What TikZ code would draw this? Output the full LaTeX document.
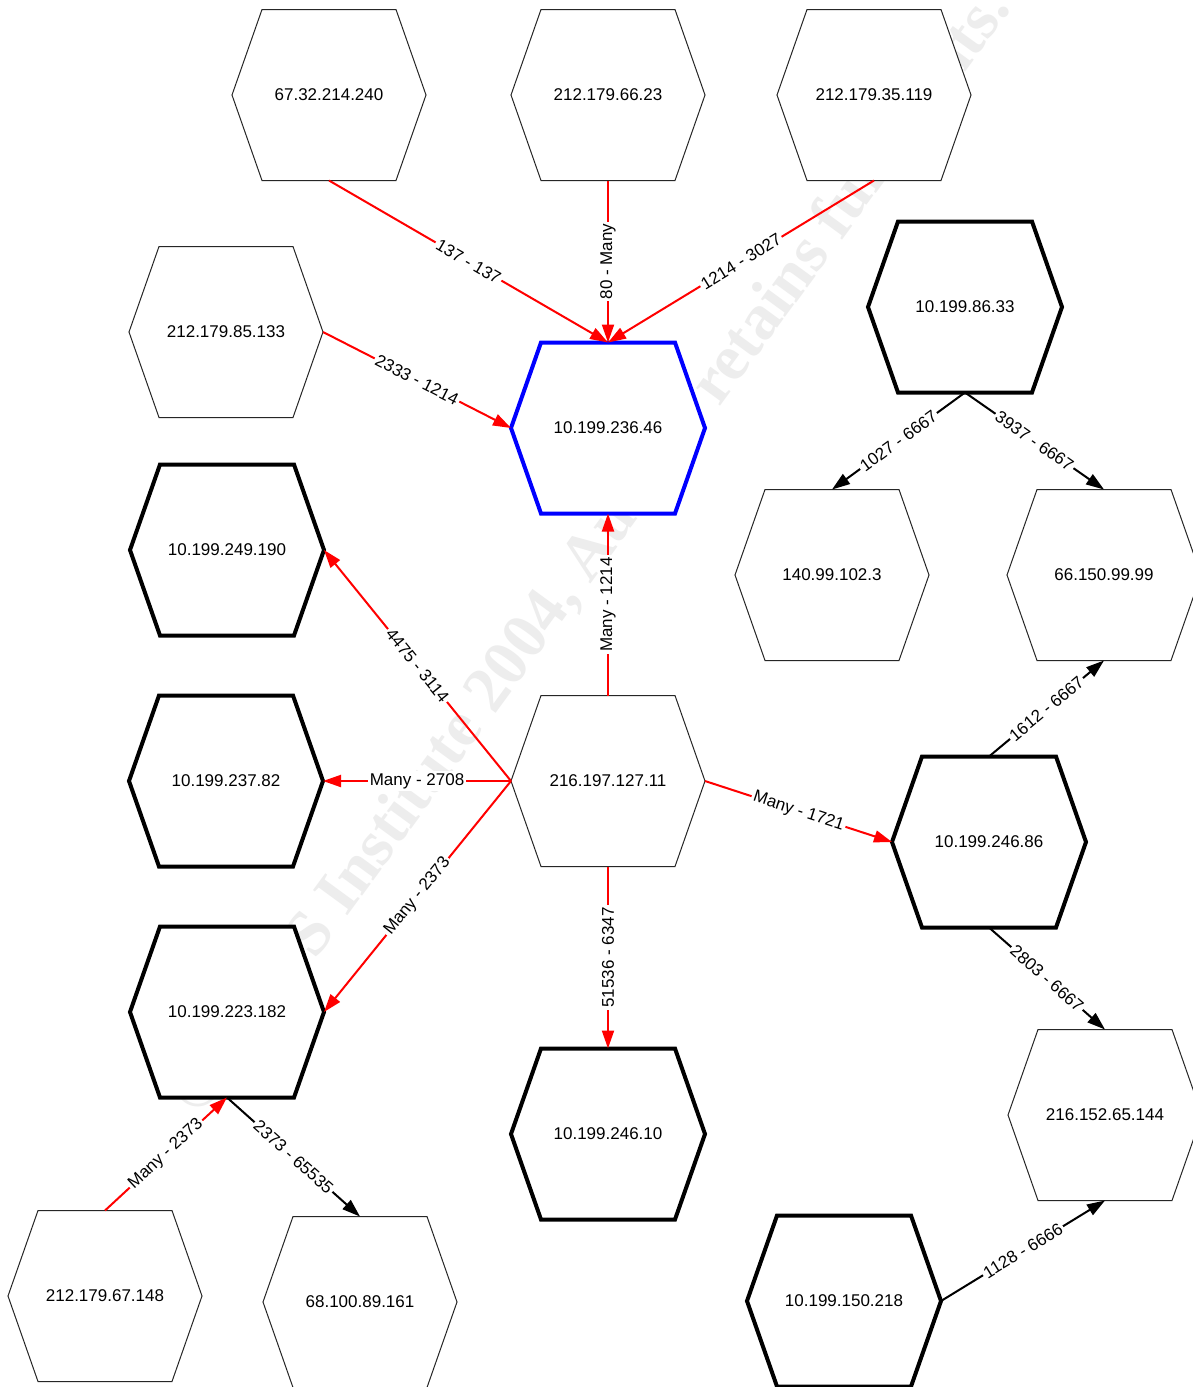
\documentclass[tikz,border=0pt]{standalone}
\usepackage{fontspec}
\setmainfont{Liberation Sans}
\newfontfamily\wmfont{Liberation Serif}
\usetikzlibrary{arrows.meta}
\makeatletter
\pgfdeclareshape{hexbox}{%
  \inheritsavedanchors[from=rectangle]%
  \inheritanchorborder[from=rectangle]%
  \inheritanchor[from=rectangle]{center}%
  \inheritanchor[from=rectangle]{north}%
  \inheritanchor[from=rectangle]{south}%
  \inheritanchor[from=rectangle]{east}%
  \inheritanchor[from=rectangle]{west}%
  \inheritanchor[from=rectangle]{text}%
  \inheritanchor[from=rectangle]{base}%
  \inheritanchor[from=rectangle]{mid}%
  \backgroundpath{%
    \southwest\edef\hexL{\the\pgf@x}\edef\hexB{\the\pgf@y}%
    \northeast\edef\hexR{\the\pgf@x}\edef\hexT{\the\pgf@y}%
    \pgfpathmoveto{\pgfpoint{\hexL}{0.5*(\hexB)+0.5*(\hexT)}}%
    \pgfpathlineto{\pgfpoint{\hexL+30pt}{\hexT}}%
    \pgfpathlineto{\pgfpoint{\hexR-30pt}{\hexT}}%
    \pgfpathlineto{\pgfpoint{\hexR}{0.5*(\hexB)+0.5*(\hexT)}}%
    \pgfpathlineto{\pgfpoint{\hexR-30pt}{\hexB}}%
    \pgfpathlineto{\pgfpoint{\hexL+30pt}{\hexB}}%
    \pgfpathclose
  }%
}
\makeatother
\begin{document}
\begin{tikzpicture}[x=1pt,y=-1pt,
  hex/.style={shape=hexbox, minimum width=194pt, minimum height=171pt, inner sep=0pt, outer sep=0pt,
    fill=white, draw=black!85, line width=1pt, font=\fontsize{17}{20}\selectfont, text=black},
  hexthick/.style={hex, draw=black, line width=4pt},
  hexblue/.style={hex, draw=blue, line width=4pt},
  conn/.style={line width=2pt, -{Triangle[length=18pt,width=12pt]}},
  redc/.style={conn, red},
  blkc/.style={conn, black},
  lbl/.style={fill=white, inner sep=2pt, font=\fontsize{17}{20}\selectfont, text=black},
  wm/.style={font=\wmfont\bfseries\fontsize{65}{70}\selectfont, text=black!7, inner sep=0pt}
]
\useasboundingbox (0,0) rectangle (1193,1387);
\clip (0,0) rectangle (1193,1387);
\fill[white] (0,0) rectangle (1193,1387);

\node[wm, rotate=53.8, anchor=base east] (wmark) at (1012,8) {© SANS Institute 2004, Author retains full rights.};

\node[hex] (n67) at (329,95) {67.32.214.240};
\node[hex] (n66) at (608,95) {212.179.66.23};
\node[hex] (n35) at (874,95) {212.179.35.119};
\node[hex] (n85) at (226,332) {212.179.85.133};
\node[hexblue] (t) at (608,428) {10.199.236.46};
\node[hexthick] (n86) at (965,307) {10.199.86.33};
\node[hex] (n140) at (832,575) {140.99.102.3};
\node[hex] (n6615) at (1104,575) {66.150.99.99};
\node[hexthick] (n249) at (227,550) {10.199.249.190};
\node[hexthick] (n237) at (226,781) {10.199.237.82};
\node[hex] (c) at (608,781) {216.197.127.11};
\node[hexthick] (n24686) at (989,842) {10.199.246.86};
\node[hexthick] (n223) at (227,1012) {10.199.223.182};
\node[hexthick] (n24610) at (608,1134) {10.199.246.10};
\node[hex] (n216) at (1105,1115) {216.152.65.144};
\node[hex] (n67148) at (105,1296) {212.179.67.148};
\node[hex] (n68) at (360,1302) {68.100.89.161};
\node[hexthick] (n150) at (844,1301) {10.199.150.218};

\draw[redc] (n67.south) -- node[lbl,sloped]{137 - 137} (t.north);
\draw[redc] (n66.south) -- node[lbl,rotate=90]{80 - Many} (t.north);
\draw[redc] (n35.south) -- node[lbl,sloped]{1214 - 3027} (t.north);
\draw[redc] (n85.east) -- node[lbl,sloped]{2333 - 1214} (t.west);
\draw[blkc] (n86.south) -- node[lbl,sloped]{1027 - 6667} (n140.north);
\draw[blkc] (n86.south) -- node[lbl,sloped]{3937 - 6667} (n6615.north);
\draw[redc] (c.north) -- node[lbl,rotate=90]{Many - 1214} (t.south);
\draw[redc] (c.west) -- node[lbl,sloped]{4475 - 3114} (n249.east);
\draw[redc] (c.west) -- node[lbl]{Many - 2708} (n237.east);
\draw[redc] (c.west) -- node[lbl,sloped]{Many - 2373} (n223.east);
\draw[redc] (c.east) -- node[lbl,sloped]{Many - 1721} (n24686.west);
\draw[redc] (c.south) -- node[lbl,rotate=90]{51536 - 6347} (n24610.north);
\draw[blkc] (n24686.north) -- node[lbl,sloped]{1612 - 6667} (n6615.south);
\draw[blkc] (n24686.south) -- node[lbl,sloped]{2803 - 6667} (n216.north);
\draw[redc] (n67148.north) -- node[lbl,sloped]{Many - 2373} (n223.south);
\draw[blkc] (n223.south) -- node[lbl,sloped]{2373 - 65535} (n68.north);
\draw[blkc] (n150.east) -- node[lbl,sloped]{1128 - 6666} (n216.south);
\end{tikzpicture}
\end{document}
